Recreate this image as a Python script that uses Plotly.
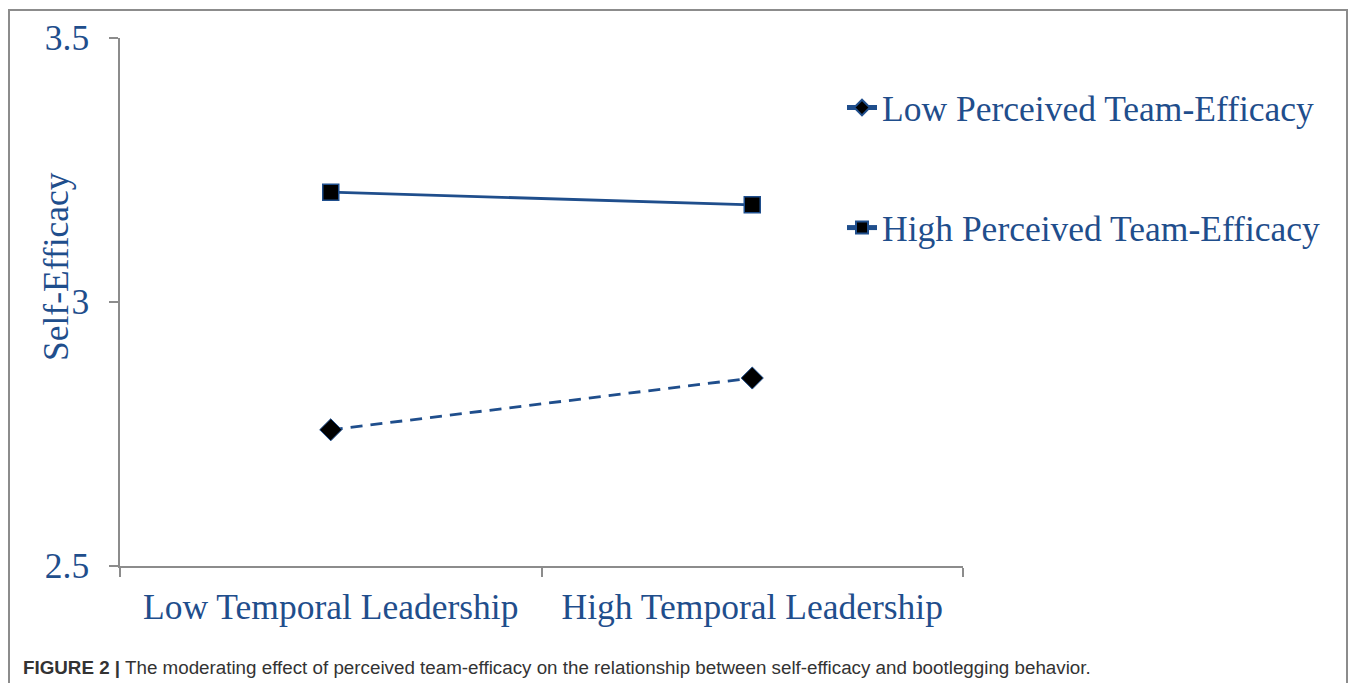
import plotly.graph_objects as go

categories = ["Low Temporal Leadership", "High Temporal Leadership"]
low_team_efficacy = [2.758, 2.856]
high_team_efficacy = [3.208, 3.184]
y_ticks = [2.5, 3.0, 3.5]
y_tick_labels = ["2.5", "3", "3.5"]

BLUE = "#1F4E8C"
AXIS = "#8C8C8C"
OFF = 8  # page body margin
W, H = 1357 - 2 * OFF, 691 - 2 * OFF
L = 120 - OFF
T = 38 - OFF
R = W - (963 - OFF)
B = H - (566 - OFF)
pw, ph = W - L - R, H - T - B

def px_x(x):
    return (x - OFF - L) / pw

def px_y(y):
    return (H - B - (y - OFF)) / ph

fig = go.Figure()
fig.add_trace(go.Scatter(
    x=categories, y=low_team_efficacy, mode="lines+markers",
    name="Low Perceived Team-Efficacy",
    line=dict(color=BLUE, width=2.8, dash="12px,8px"),
    marker=dict(symbol="diamond", size=17, color="black", line=dict(color=BLUE, width=1)),
    legend="legend",
))
fig.add_trace(go.Scatter(
    x=categories, y=high_team_efficacy, mode="lines+markers",
    name="High Perceived Team-Efficacy",
    line=dict(color=BLUE, width=2.8),
    marker=dict(symbol="square", size=16, color="black", line=dict(color=BLUE, width=1.5)),
    legend="legend2",
))

serif = "Liberation Serif, Times New Roman, serif"
FS = 35.5
leg_common = dict(font=dict(family=serif, size=FS, color=BLUE), bgcolor="rgba(0,0,0,0)",
                  xanchor="left", yanchor="middle", itemsizing="constant")

fig.update_layout(
    width=W, height=H,
    margin=dict(l=L, r=R, t=T, b=B, autoexpand=False),
    paper_bgcolor="white", plot_bgcolor="white",
    showlegend=True,
    legend=dict(x=px_x(842), y=px_y(108), **leg_common),
    legend2=dict(x=px_x(842), y=px_y(228), **leg_common),
    xaxis=dict(
        type="category", range=[-0.5, 1.5], showline=True, linecolor=AXIS, linewidth=1.5,
        ticks="outside", tickson="boundaries", ticklen=9, tickcolor=AXIS, tickwidth=1.5,
        showgrid=False, zeroline=False,
        tickfont=dict(family=serif, size=FS, color=BLUE), ticklabelstandoff=9,
    ),
    yaxis=dict(
        range=[2.5, 3.5], tickvals=y_ticks, ticktext=y_tick_labels,
        showline=True, linecolor=AXIS, linewidth=1.5,
        ticks="outside", ticklen=9, tickcolor=AXIS, tickwidth=1.5,
        showgrid=False, zeroline=False,
        tickfont=dict(family=serif, size=FS, color=BLUE), ticklabelstandoff=13,
    ),
    font=dict(family=serif),
)

# Y-axis title
fig.add_annotation(
    text="Self-Efficacy", xref="paper", yref="paper", x=px_x(56), y=px_y(267),
    textangle=-90, showarrow=False, xanchor="center", yanchor="middle",
    font=dict(family=serif, size=FS, color=BLUE),
)

# Caption
fig.add_annotation(
    text="<b>FIGURE 2 |</b> The moderating effect of perceived team-efficacy on the relationship between self-efficacy and bootlegging behavior.",
    xref="paper", yref="paper", x=px_x(21), y=px_y(667),
    showarrow=False, xanchor="left", yanchor="middle",
    font=dict(family="Liberation Sans, Arial, sans-serif", size=18.8, color="#333333"),
)

# Figure frame (left, top, right edges)
x0, x1 = px_x(9), px_x(1347)
y0, y1 = px_y(700), px_y(10)
fig.add_shape(type="path", xref="paper", yref="paper",
              path=f"M {x0},{y0} L {x0},{y1} L {x1},{y1} L {x1},{y0}",
              line=dict(color="#8C8C8C", width=2))

fig.write_html("out.html")
